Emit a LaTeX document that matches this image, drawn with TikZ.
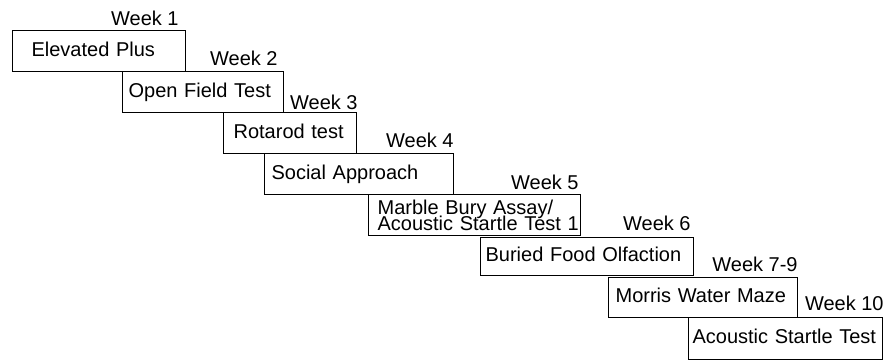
\documentclass[tikz,border=0pt]{standalone}
\usepackage{fontspec}
\setmainfont{Liberation Sans}
\usetikzlibrary{positioning}
\tikzset{every path/.style={black,line width=0.6pt}, every node/.style={font=\fontsize{10}{12}\selectfont}}
\tikzset{box/.style={draw, anchor=north west, align=left, inner ysep=0pt, minimum height=20.5pt, text height=7.2pt, text depth=2.1pt},
         week/.style={inner sep=0pt, text depth=0pt}}

\begin{document}
\begin{tikzpicture}[x=0.5pt,y=-0.5pt]
   \useasboundingbox (0,0) rectangle (896,360);
   \node[box, inner xsep=9.5pt, text width=67.5pt] (elevated) at (12,30) {Elevated Plus};
   \node[box, inner xsep=3pt, text width=74.5pt] (openfield) at (122,71) {Open Field Test};
   \node[box, inner xsep=5pt, text width=56.5pt] (rotarod) at (223,112) {Rotarod test};
   \node[box, inner xsep=3.5pt, text width=87.5pt] (social) at (264,153) {Social Approach};
   \node[box, inner xsep=4.5pt, text width=97pt, text height=7.5pt, text depth=8.5pt] (marble) at (368,194) {Marble Bury Assay/\\[-4pt]\mbox{Acoustic Startle Test 1}};
   \node[box, inner xsep=2.5pt, text width=101.5pt, minimum height=19pt] (buried) at (480,237) {Buried Food Olfaction};
   \node[box, inner xsep=3.5pt, text width=87.5pt, minimum height=20pt] (morris) at (608,277) {Morris Water Maze};
   \node[box, inner xsep=2pt, text width=93pt, minimum height=21pt] (startle) at (688,317) {Acoustic Startle Test};
   \node[week, above left=2pt and 3.5pt of elevated.north east] (week1) {Week 1};
   \node[week, above left=2.5pt and 3pt of openfield.north east] (week2) {Week 2};
   \node[week, above left=1pt and -0.5pt of rotarod.north east] (week3) {Week 3};
   \node[week, above left=2.5pt and 0pt of social.north east] (week4) {Week 4};
   \node[week, above left=2pt and 1pt of marble.north east] (week5) {Week 5};
   \node[week, above left=3pt and 1.5pt of buried.north east] (week6) {Week 6};
   \node[week, above left=2.5pt and 0pt of morris.north east] (week7) {Week 7-9};
   \node[week, above left=3pt and -0.5pt of startle.north east] (week10) {Week 10};
\end{tikzpicture}
\end{document}
